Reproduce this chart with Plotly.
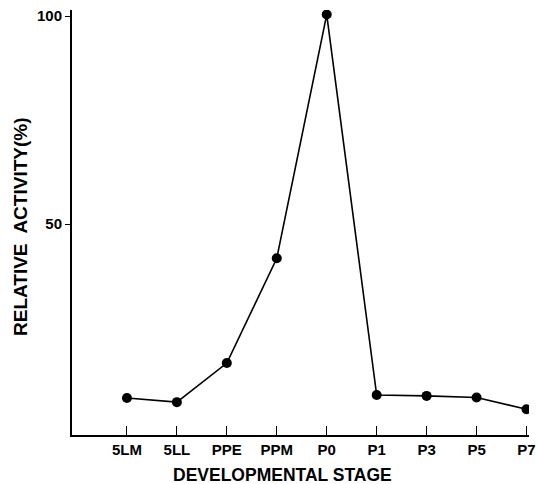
import plotly.graph_objects as go

stages = ["5LM", "5LL", "PPE", "PPM", "P0", "P1", "P3", "P5", "P7"]
activity = [8.2, 7.2, 16.6, 41.8, 100.4, 8.9, 8.7, 8.3, 5.5]

font_family = "Liberation Sans, Arial, sans-serif"

fig = go.Figure()
fig.add_trace(go.Scatter(
    x=list(range(len(stages))), y=activity,
    mode="lines+markers",
    line=dict(color="black", width=1.6),
    marker=dict(color="black", size=10),
    showlegend=False,
))

fig.update_layout(
    width=537, height=484,
    margin=dict(l=72, r=8, t=10, b=49),
    paper_bgcolor="white", plot_bgcolor="white",
    font=dict(family=font_family, color="black", size=15),
    xaxis=dict(
        range=[-1.1, 8.05], automargin=False,
        tickmode="array", tickvals=list(range(len(stages))), ticktext=[f"<b>{s}</b>" for s in stages],
        ticks="inside", ticklen=9, tickwidth=1, tickcolor="black",
        showline=True, linecolor="black", linewidth=2,
        showgrid=False, zeroline=False,
        tickfont=dict(size=15),
    ),
    yaxis=dict(
        range=[-0.7, 101.5], automargin=False,
        tickmode="array", tickvals=[50, 100], ticktext=["<b>50</b>", "<b>100</b>"],
        ticks="outside", ticklen=5, tickwidth=1, tickcolor="black",
        showline=True, linecolor="black", linewidth=2,
        showgrid=False, zeroline=False,
        tickfont=dict(size=15),
    ),
    annotations=[
        dict(text="<b>DEVELOPMENTAL STAGE</b>", xref="paper", yref="paper",
             x=(282 - 72) / (529 - 72), y=-(475 - 435) / 425, xanchor="center", yanchor="middle",
             showarrow=False, font=dict(size=17.5)),
        dict(text="<b>RELATIVE  ACTIVITY(%)</b>", xref="paper", yref="paper", textangle=-90,
             x=-(72 - 21) / (529 - 72), y=(435 - 227) / 425, xanchor="center", yanchor="middle",
             showarrow=False, font=dict(size=19)),
    ],
)

fig.write_html("out.html", config={"displayModeBar": False},
               post_script="document.body.style.margin='0px';document.body.style.overflow='hidden';")
